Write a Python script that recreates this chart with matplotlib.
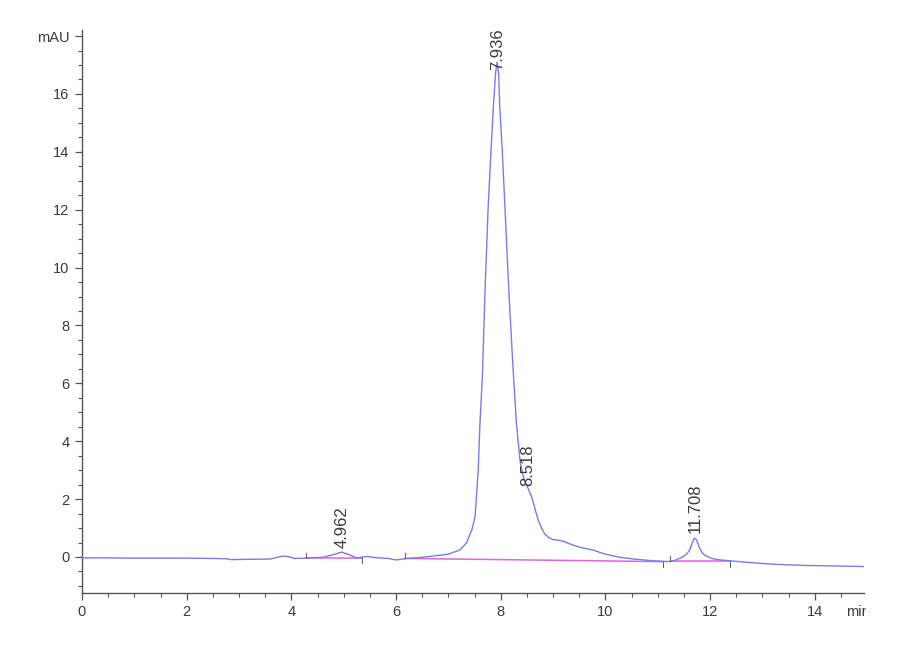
#!/usr/bin/env python3
import numpy as np
import matplotlib.pyplot as plt
from matplotlib.patches import Rectangle
from matplotlib.ticker import MultipleLocator

# --- chromatogram trace (min, mAU) ---
time_min = [0.0, 0.5, 1.0, 1.5, 2.0, 2.5, 2.75, 2.85, 3.2, 3.6, 3.75, 3.85, 3.95,
            4.05, 4.3, 4.6, 4.8, 4.96, 5.1, 5.25, 5.45, 5.6, 5.85, 6.0, 6.1, 6.2,
            6.5, 6.84, 7.0, 7.22, 7.35, 7.45, 7.51, 7.57, 7.6, 7.65, 7.7, 7.76,
            7.81, 7.86, 7.9, 7.93, 7.96, 7.98, 8.03, 8.08, 8.16, 8.24, 8.3, 8.37,
            8.42, 8.47, 8.52, 8.59, 8.65, 8.71, 8.78, 8.84, 8.92, 9.0, 9.1, 9.19,
            9.28, 9.38, 9.57, 9.77, 9.9, 10.02, 10.27, 10.59, 10.91, 11.23, 11.35,
            11.48, 11.55, 11.61, 11.66, 11.7, 11.74, 11.8, 11.86, 11.93, 12.05,
            12.18, 12.5, 12.82, 13.2, 13.78, 14.41, 14.94]
signal_mau = [-0.03, -0.03, -0.04, -0.04, -0.04, -0.05, -0.06, -0.09, -0.08, -0.07,
              0.0, 0.03, 0.01, -0.05, -0.04, -0.01, 0.08, 0.17, 0.08, -0.03, 0.02,
              -0.02, -0.05, -0.1, -0.08, -0.05, -0.01, 0.06, 0.1, 0.24, 0.5, 0.95,
              1.4, 3.0, 4.5, 6.3, 9.2, 12.1, 13.9, 15.6, 16.7, 17.1, 16.7, 15.6,
              14.0, 12.1, 9.0, 6.36, 4.6, 3.3, 2.85, 2.55, 2.38, 2.08, 1.7, 1.3,
              1.0, 0.8, 0.67, 0.6, 0.58, 0.55, 0.48, 0.41, 0.31, 0.24, 0.15, 0.09,
              -0.01, -0.08, -0.13, -0.16, -0.1, 0.01, 0.1, 0.24, 0.5, 0.65, 0.6,
              0.3, 0.12, 0.03, -0.06, -0.1, -0.15, -0.2, -0.25, -0.29, -0.31, -0.33]

# integration baselines: (start t, start v, end t, end v)
base_t0 = [4.28, 6.17, 11.24]
base_v0 = [-0.03, -0.05, -0.15]
base_t1 = [5.34, 11.10, 12.38]
base_v1 = [-0.04, -0.16, -0.15]

# peak retention time labels
peak_rt = [4.962, 7.936, 8.518, 11.708]
peak_lbl = ["4.962", "7.936", "8.518", "11.708"]
lbl_shift = [0.15, -0.2, 0.05, 0.2]

TXT = "#3a3a3a"
AX = "#555555"
NARROW = ["Liberation Sans Narrow", "Liberation Sans", "DejaVu Sans"]

fig = plt.figure(figsize=(9, 6.6), dpi=100)
ax = fig.add_axes([82/900, 67/660, 782/900, 563/660])

ax.plot(time_min, signal_mau, color="#7b7be6", lw=1.0, zorder=3)

for t0, v0, t1, v1 in zip(base_t0, base_v0, base_t1, base_v1):
    ax.plot([t0, t1], [v0, v1], color="#e066dc", lw=1.1, zorder=2)
    # start/end markers
    ax.plot([t0, t0], [v0, v0 + 0.18], color="#666666", lw=0.8, zorder=4)
    ax.plot([t1, t1], [v1, v1 - 0.18], color="#666666", lw=0.8, zorder=4)

for rt, lbl, sh in zip(peak_rt, peak_lbl, lbl_shift):
    y = np.interp(rt, time_min, signal_mau) + sh
    ax.text(rt, y, lbl, rotation=90, ha="center", va="bottom", fontsize=12,
            color=TXT, family=["Liberation Sans", "DejaVu Sans"], zorder=5)

ax.set_xlim(0, 14.94)
ax.set_ylim(-1.244, 18.21)

for s in ["top", "right"]:
    ax.spines[s].set_visible(False)
for s in ["left", "bottom"]:
    ax.spines[s].set_color(AX)
    ax.spines[s].set_linewidth(1.0)

ax.xaxis.set_minor_locator(MultipleLocator(0.5))
ax.yaxis.set_minor_locator(MultipleLocator(0.5))
ax.set_xticks([0, 2, 4, 6, 8, 10, 12, 14])
ax.set_yticks([0, 2, 4, 6, 8, 10, 12, 14, 16, 18])
ax.set_yticklabels(["0", "2", "4", "6", "8", "10", "12", "14", "16", "mAU"])

ax.tick_params(which="major", direction="out", length=5, width=0.9, color=AX,
               labelcolor=TXT, labelsize=10.5, pad=4)
ax.tick_params(which="minor", direction="out", length=3, width=0.8, color=AX)
for lab in ax.get_xticklabels() + ax.get_yticklabels():
    lab.set_family(NARROW)

# x unit label, cut at the axis end like the original
unit = fig.text(846/900, 1 - 612/660, "min", ha="left", va="center", fontsize=10.5,
                color=TXT, family=NARROW)
unit.set_clip_path(Rectangle((0, 0), 866/900, 1, transform=fig.transFigure))

fig.savefig("out.png", dpi=100)
